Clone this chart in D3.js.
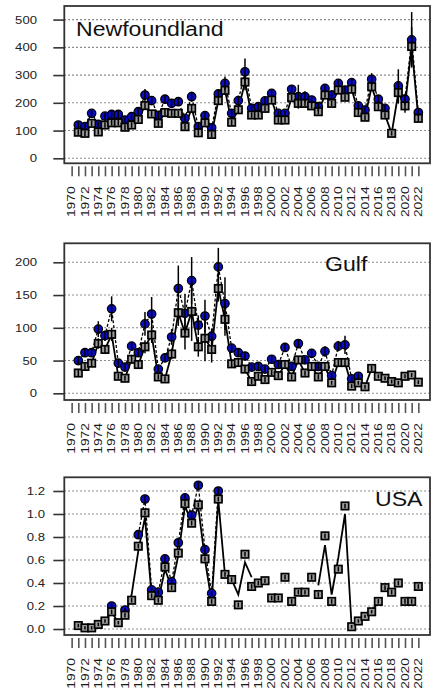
<!DOCTYPE html>
<html>
<head>
<meta charset="utf-8">
<script src="https://cdn.jsdelivr.net/npm/d3@7/dist/d3.min.js"></script>
<style>
  body { margin: 0; background: #fff; }
  svg { display: block; }
</style>
</head>
<body>
<div id="chart"></div>
<script>
// ---- data ----
const years = [1971, 1972, 1973, 1974, 1975, 1976, 1977, 1978, 1979, 1980,
  1981, 1982, 1983, 1984, 1985, 1986, 1987, 1988, 1989, 1990,
  1991, 1992, 1993, 1994, 1995, 1996, 1997, 1998, 1999, 2000,
  2001, 2002, 2003, 2004, 2005, 2006, 2007, 2008, 2009, 2010,
  2011, 2012, 2013, 2014, 2015, 2016, 2017, 2018, 2019, 2020,
  2021, 2022];

const tickYears = [1970, 1971, 1972, 1973, 1974, 1975, 1976, 1977, 1978, 1979,
  1980, 1981, 1982, 1983, 1984, 1985, 1986, 1987, 1988, 1989,
  1990, 1991, 1992, 1993, 1994, 1995, 1996, 1997, 1998, 1999,
  2000, 2001, 2002, 2003, 2004, 2005, 2006, 2007, 2008, 2009,
  2010, 2011, 2012, 2013, 2014, 2015, 2016, 2017, 2018, 2019,
  2020, 2021, 2022];
const labelYears = [1970, 1972, 1974, 1976, 1978, 1980, 1982, 1984, 1986, 1988,
  1990, 1992, 1994, 1996, 1998, 2000, 2002, 2004, 2006, 2008,
  2010, 2012, 2014, 2016, 2018, 2020, 2022];

// Newfoundland
const nfCirc = [120, 114, 162, 122, 152, 158, 158, 138, 150, 168,
  228, 208, 155, 213, 198, 204, 144, 222, 114, 154,
  110, 232, 270, 162, 208, 312, 180, 186, 207, 234,
  162, 162, 249, 222, 222, 210, 186, 252, 228, 270,
  246, 273, 189, 174, 285, 213, 180, null, 261, 213,
  427, 165];
const nfCircErr = [12, 10, 12, 10, 12, 12, 12, 12, 12, 14,
  22, 15, 12, 15, 15, 15, 12, 18, 12, 14,
  12, 15, 25, 15, 18, 48, 12, 12, 15, 14,
  10, 10, 14, 43, 20, 14, 16, 15, 18, 14,
  15, 14, 14, 14, 22, 14, 12, 0, 60, 20,
  100, 14];
const nfSq = [94, 90, 126, 95, 120, 128, 128, 112, 120, 140,
  190, 160, 126, 165, 162, 162, 114, 180, 92, 128,
  86, 208, 245, 130, 175, 275, 156, 156, 180, 210,
  138, 138, 219, 198, 198, 189, 168, 228, 198, 246,
  220, 249, 165, 148, 258, 186, 156, 90, 237, 189,
  403, 144];
const nfSqErr = [10, 10, 10, 10, 10, 10, 10, 10, 10, 10,
  12, 10, 10, 12, 10, 10, 10, 12, 10, 10,
  10, 12, 15, 10, 12, 30, 10, 10, 10, 10,
  10, 10, 10, 10, 10, 10, 10, 10, 10, 10,
  10, 10, 10, 10, 15, 10, 10, 8, 40, 25,
  70, 12];

// Gulf
const gulfCirc = [50, 62, 62, 98, 88, 129, 46, 40, 72, 62,
  106, 121, 37, 54, 86, 160, 122, 172, 104, 118,
  87, 193, 137, 69, 62, 57, 40, 41, 37, 52,
  44, 70, 41, 76, 51, 61, 41, 64, 27, 72,
  74, 22, 26, null, null, null, null, null, null, null,
  null, null];
const gulfCircErr = [6, 6, 6, 12, 8, 19, 5, 5, 6, 6,
  18, 26, 5, 6, 12, 35, 30, 36, 15, 25,
  12, 29, 40, 6, 6, 6, 5, 5, 5, 5,
  5, 6, 5, 6, 5, 6, 5, 8, 4, 8,
  14, 4, 4, 0, 0, 0, 0, 0, 0, 0,
  0, 0];
const gulfSq = [31, 41, 46, 76, 67, 90, 26, 23, 52, 44,
  71, 89, 25, 22, 60, 123, 92, 125, 71, 84,
  67, 160, 113, 45, 47, 37, 18, 26, 21, 32,
  27, 44, 25, 51, 31, 41, 25, 41, 16, 47,
  47, 11, 16, 10, 38, 26, 23, 18, 16, 26,
  28, 17];
const gulfSqErr = [5, 5, 5, 8, 6, 10, 4, 4, 6, 6,
  10, 12, 4, 4, 8, 20, 25, 45, 15, 35,
  20, 20, 25, 6, 6, 5, 4, 4, 4, 4,
  4, 5, 4, 5, 4, 5, 4, 5, 3, 5,
  6, 3, 3, 3, 4, 3, 3, 3, 3, 3,
  3, 3];

// USA
const usaCirc = [null, null, null, null, null, 0.20, null, 0.165, null, 0.82,
  1.13, 0.34, 0.32, 0.61, 0.41, 0.75, 1.14, 0.99, 1.25, 0.69,
  0.31, 1.20, null, null, null, null, null, null, null, null,
  null, null, null, null, null, null, null, null, null, null,
  null, null, null, null, null, null, null, null, null, null,
  null, null];
const usaCircErr = [0, 0, 0, 0, 0, 0.02, 0, 0.02, 0, 0.03,
  0.03, 0.02, 0.02, 0.03, 0.02, 0.03, 0.03, 0.03, 0.03, 0.03,
  0.02, 0.03, 0, 0, 0, 0, 0, 0, 0, 0,
  0, 0, 0, 0, 0, 0, 0, 0, 0, 0,
  0, 0, 0, 0, 0, 0, 0, 0, 0, 0,
  0, 0];
const usaSq = [0.03, 0.01, 0.01, 0.04, 0.07, 0.15, 0.055, 0.12, 0.25, 0.72,
  1.01, 0.29, 0.25, 0.54, 0.36, 0.66, 1.09, 0.92, 1.08, 0.61,
  0.24, 1.13, 0.475, 0.43, 0.21, 0.65, 0.37, 0.40, 0.42, 0.27,
  0.27, 0.45, 0.24, 0.32, 0.32, 0.45, 0.30, 0.81, 0.24, 0.52,
  1.07, 0.02, 0.07, 0.11, 0.15, 0.24, 0.36, 0.32, 0.40, 0.24,
  0.24, 0.37];
const usaSqErr = [0.015, 0.015, 0.015, 0.015, 0.015, 0.02, 0.015, 0.02, 0.02, 0.02,
  0.02, 0.02, 0.02, 0.02, 0.02, 0.02, 0.02, 0.02, 0.02, 0.02,
  0.02, 0.02, 0.02, 0.02, 0.02, 0.02, 0.02, 0.02, 0.02, 0.02,
  0.02, 0.02, 0.02, 0.02, 0.02, 0.02, 0.02, 0.02, 0.02, 0.02,
  0.02, 0.015, 0.015, 0.015, 0.015, 0.02, 0.02, 0.02, 0.02, 0.02,
  0.02, 0.02];
const usaLine = [0.03, 0.01, 0.01, 0.04, 0.07, 0.15, 0.055, 0.12, 0.30, 0.68,
  0.97, 0.29, 0.25, 0.52, 0.36, 0.64, 1.07, 0.92, 1.06, 0.60,
  0.24, 1.12, 0.47, 0.43, 0.30, 0.58, 0.45, null, null, null,
  null, null, null, null, null, null, 0.38, 0.73, 0.30, 0.62,
  1.00, 0.02, 0.07, 0.11, 0.15, 0.24, null, null, null, null,
  null, null];

const nfTicks = [0, 100, 200, 300, 400, 500];
const gulfTicks = [0, 50, 100, 150, 200];
const usaTicks = [0, 0.2, 0.4, 0.6, 0.8, 1.0, 1.2];

// ---- layout ----
const WIDTH = 434, HEIGHT = 691;
const LEFT = 64.3, RIGHT = 430;
const BLUE = "#0a0ac8", GREY = "#9b9b9b";
const R_CIRC = 4.2, SQ = 7.4;

const panels = [
  { name: "Newfoundland", top: 6, bottom: 163.3, domain: [-18, 549], ticks: nfTicks, fmt: d3.format("d"),
    circ: nfCirc, circErr: nfCircErr, sq: nfSq, sqErr: nfSqErr, line: nfSq,
    titleX: 76, titleY: 36, labelRight: 37 },
  { name: "Gulf", top: 243.3, bottom: 400, domain: [-10.2, 229], ticks: gulfTicks, fmt: d3.format("d"),
    circ: gulfCirc, circErr: gulfCircErr, sq: gulfSq, sqErr: gulfSqErr, line: gulfSq,
    titleX: 325, titleY: 271, labelRight: 37 },
  { name: "USA", top: 477.3, bottom: 635, domain: [-0.052, 1.319], ticks: usaTicks, fmt: d3.format(".1f"),
    circ: usaCirc, circErr: usaCircErr, sq: usaSq, sqErr: usaSqErr, line: usaLine,
    titleX: 375, titleY: 506, labelRight: 45 }
];

const xScale = d3.scaleLinear().domain([1968.9, 2023.75]).range([LEFT, RIGHT]);

const svg = d3.select("#chart").append("svg")
  .attr("width", WIDTH)
  .attr("height", HEIGHT)
  .style("font-family", "'Liberation Sans', Arial, sans-serif");

panels.forEach(p => {
  const yScale = d3.scaleLinear().domain(p.domain).range([p.bottom, p.top]);
  const g = svg.append("g").attr("class", "panel");

  const rows = years.map((yr, i) => ({
    yr: yr, c: p.circ[i], ce: p.circErr[i], s: p.sq[i], se: p.sqErr[i], l: p.line[i]
  }));

  // dotted grid
  g.append("g").selectAll("line")
    .data(p.ticks)
    .join("line")
    .attr("x1", LEFT).attr("x2", RIGHT)
    .attr("y1", d => yScale(d)).attr("y2", d => yScale(d))
    .attr("stroke", "#666")
    .attr("stroke-width", 1.1)
    .attr("stroke-dasharray", "1.5,2.5");

  // y axis
  const yAxis = g.append("g")
    .attr("transform", "translate(" + LEFT + ",0)")
    .call(d3.axisLeft(yScale).tickValues(p.ticks).tickFormat(p.fmt).tickSize(11).tickSizeOuter(0));
  yAxis.select(".domain").remove();
  yAxis.selectAll(".tick line").attr("stroke", "#333").attr("stroke-width", 1.6);
  yAxis.selectAll(".tick text")
    .attr("x", null).attr("dy", null)
    .attr("dominant-baseline", "central")
    .attr("transform", "translate(" + (p.labelRight - LEFT) + ",0) scale(1.25,1)")
    .attr("font-size", 10.5)
    .attr("font-family", "'Liberation Sans', Arial, sans-serif")
    .attr("fill", "#222");

  // x axis ticks
  const xAxis = g.append("g")
    .attr("transform", "translate(0," + (p.bottom + 3) + ")")
    .call(d3.axisBottom(xScale).tickValues(tickYears).tickFormat("").tickSize(10).tickSizeOuter(0));
  xAxis.select(".domain").remove();
  xAxis.selectAll(".tick line").attr("stroke", "#555").attr("stroke-width", 1.6);

  // x labels (every second year, rotated)
  g.append("g").selectAll("text")
    .data(labelYears)
    .join("text")
    .attr("transform", d => "translate(" + xScale(d) + "," + (p.bottom + 23) + ") rotate(-90) scale(1.32,1)")
    .attr("text-anchor", "end")
    .attr("dy", "0.36em")
    .attr("font-size", 10.5)
    .attr("fill", "#1a1a1a")
    .text(d => d);

  // dashed line through circles
  const circLine = d3.line()
    .defined(d => d.c != null)
    .x(d => xScale(d.yr))
    .y(d => yScale(d.c));
  g.append("path")
    .datum(rows)
    .attr("d", circLine)
    .attr("fill", "none")
    .attr("stroke", "#000")
    .attr("stroke-width", 1.3)
    .attr("stroke-dasharray", "3,2");

  // solid line
  const solidLine = d3.line()
    .defined(d => d.l != null)
    .x(d => xScale(d.yr))
    .y(d => yScale(d.l));
  g.append("path")
    .datum(rows)
    .attr("d", solidLine)
    .attr("fill", "none")
    .attr("stroke", "#000")
    .attr("stroke-width", 1.8);

  // circles
  g.append("g").selectAll("circle")
    .data(rows.filter(d => d.c != null))
    .join("circle")
    .attr("cx", d => xScale(d.yr))
    .attr("cy", d => yScale(d.c))
    .attr("r", R_CIRC)
    .attr("fill", BLUE)
    .attr("stroke", "#000")
    .attr("stroke-width", 1.3);

  // squares
  g.append("g").selectAll("rect")
    .data(rows.filter(d => d.s != null))
    .join("rect")
    .attr("x", d => xScale(d.yr) - SQ / 2)
    .attr("y", d => yScale(d.s) - SQ / 2)
    .attr("width", SQ)
    .attr("height", SQ)
    .attr("fill", GREY)
    .attr("stroke", "#000")
    .attr("stroke-width", 1.7);

  // error bars
  g.append("g").selectAll("line")
    .data(rows.filter(d => d.c != null))
    .join("line")
    .attr("x1", d => xScale(d.yr)).attr("x2", d => xScale(d.yr))
    .attr("y1", d => yScale(d.c - d.ce)).attr("y2", d => yScale(d.c + d.ce))
    .attr("stroke", "#000")
    .attr("stroke-width", 1.5);
  g.append("g").selectAll("line")
    .data(rows.filter(d => d.s != null))
    .join("line")
    .attr("x1", d => xScale(d.yr)).attr("x2", d => xScale(d.yr))
    .attr("y1", d => yScale(d.s - d.se)).attr("y2", d => yScale(d.s + d.se))
    .attr("stroke", "#000")
    .attr("stroke-width", 1.5);

  // frame
  g.append("rect")
    .attr("x", LEFT).attr("y", p.top)
    .attr("width", RIGHT - LEFT).attr("height", p.bottom - p.top)
    .attr("fill", "none")
    .attr("stroke", "#333")
    .attr("stroke-width", 1.8);

  // panel title
  g.append("text")
    .attr("transform", "translate(" + p.titleX + "," + p.titleY + ") scale(1.1,1)")
    .attr("font-size", 21)
    .attr("fill", "#111")
    .text(p.name);
});
</script>
</body>
</html>
